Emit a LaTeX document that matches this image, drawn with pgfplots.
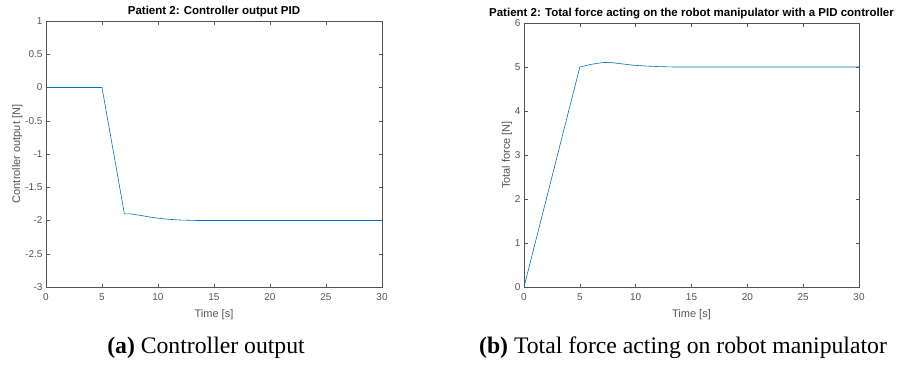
\documentclass[border=0pt]{standalone}
\usepackage{pgfplots}
\pgfplotsset{compat=1.18}
\usepackage{fontspec}
\setmainfont{Liberation Serif}
\newfontfamily\plotfont{Liberation Sans}
\definecolor{mblue}{rgb}{0,0.447,0.741}
\definecolor{axgray}{rgb}{0.33,0.33,0.33}
\pgfplotsset{
  mystyle/.style={
    scale only axis,
    font=\plotfont\fontsize{10}{12}\selectfont,
    axis line style={axgray, line width=0.5pt},
    tick style={axgray, line width=0.5pt},
    tick align=inside,
    major tick length=3.5pt,
    ticklabel style={text=axgray},
    xticklabel style={yshift=-3pt},
    label style={text=axgray, font=\plotfont\fontsize{11}{13}\selectfont},
    title style={font=\plotfont\bfseries\fontsize{11.5}{13}\selectfont, text=black, yshift=-5.5pt},
    xmin=0, xmax=30,
    xtick={0,5,10,15,20,25,30},
    xticklabels={0,5,10,15,20,25,30},
    xlabel={Time [s]},
    xlabel style={yshift=-2pt},
    ylabel style={yshift=-4pt},
  }
}
\begin{document}
\begin{tikzpicture}
\useasboundingbox (-46pt,-78pt) rectangle (854pt,287pt);
\begin{axis}[mystyle, at={(0pt,0pt)}, anchor=south west,
  width=336pt, height=266pt,
  ymin=-3, ymax=1,
  ytick={-3,-2.5,-2,-1.5,-1,-0.5,0,0.5,1},
  yticklabels={-3,-2.5,-2,-1.5,-1,-0.5,0,0.5,1},
  ylabel={Controller output [N]},
  title={Patient 2: Controller output PID}]
\addplot[mblue, line width=0.6pt, no marks] coordinates {(0,0) (5,0) (7,-1.9) (7.5,-1.9) (8.5,-1.925) (9.5,-1.955) (10.8,-1.98) (12,-1.993) (13.5,-2) (30,-2)};
\end{axis}
\begin{axis}[mystyle, at={(478pt,0pt)}, anchor=south west,
  width=335pt, height=264pt,
  ymin=0, ymax=6,
  ytick={0,1,2,3,4,5,6},
  yticklabels={0,1,2,3,4,5,6},
  ylabel={Total force [N]},
  title={Patient 2: Total force acting on the robot manipulator with a PID controller}]
\addplot[mblue, line width=0.6pt, no marks] coordinates {(0,0) (5,5) (6,5.06) (7,5.1) (7.6,5.105) (8.5,5.08) (9.8,5.04) (11,5.02) (12,5.01) (13.5,5) (30,5)};
\end{axis}
\node[font=\fontsize{23.7}{28}\selectfont] at (160pt,-61pt) {\textbf{(a)} Controller output};
\node[font=\fontsize{23.7}{28}\selectfont] at (637pt,-61pt) {\textbf{(b)} Total force acting on robot manipulator};
\end{tikzpicture}
\end{document}
